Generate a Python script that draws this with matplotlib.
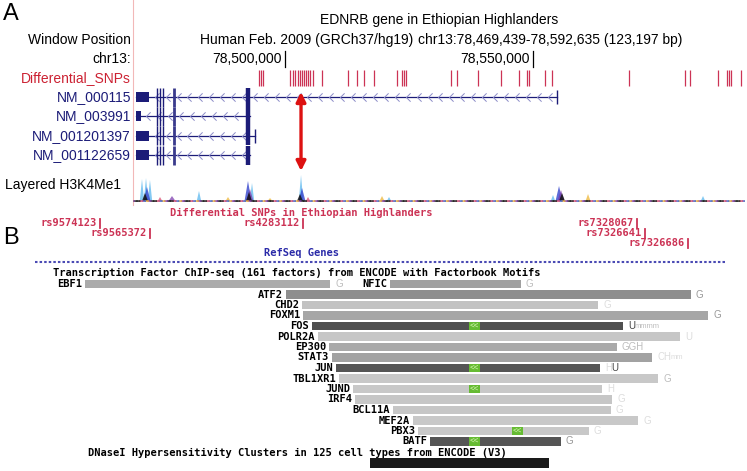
import numpy as np
import matplotlib.pyplot as plt
from matplotlib.path import Path
from matplotlib.patches import Rectangle, Polygon

W, H = 747, 471
SANS = 'Liberation Sans'
MONO = 'DejaVu Sans Mono'

# ---- panel A: chr13 window (hg19) ----
win_start, win_end = 78469439, 78592635
ruler_ticks = [78500000, 78550000]
ruler_labels = ['78,500,000', '78,550,000']

snp_pos = [78494760, 78495160, 78495570, 78501010, 78501610, 78502020, 78502620,
           78503020, 78503430, 78503830, 78504230, 78504640, 78505040, 78505650,
           78507460, 78512700, 78514520, 78515930, 78517940, 78522580, 78523590,
           78523990, 78524390, 78533470, 78534680, 78538910, 78543550, 78547170,
           78548790, 78549190, 78552420, 78553830, 78569350, 78580640, 78581650,
           78587290, 78589110, 78589510, 78589910, 78591930]

tx_names = ['NM_000115', 'NM_003991', 'NM_001201397', 'NM_001122659']
tx_start = [78469900, 78469960, 78469900, 78469900]
tx_end = [78554840, 78492940, 78493950, 78492940]
utr_end = [78472640, 78470970, 78472640, 78472640]
thin_exons = [78474260, 78474740, 78475340]
exon4 = 78477680
exon5 = 78492600
arrow_snp = 78503230

# Layered H3K4Me1 peaks (position, height)
lblue_pos = [78471170, 78471980, 78472780, 78482660, 78493350, 78503230, 78520970, 78554030, 78584270]
lblue_h = [22, 23, 21, 10, 18, 26, 4, 6, 5]
blue_pos = [78472180, 78492540, 78503430, 78555240]
blue_h = [14, 20, 13, 15]
purple_pos = [78477220, 78492940, 78555640]
purple_h = [5, 12, 11]
black_pos = [78471780, 78492740, 78503020, 78555840]
black_h = [8, 9, 7, 8]
orange_pos = [78488510, 78496980, 78519560, 78561090]
orange_h = [4, 3, 5, 7]
pink_pos = [78474800, 78504640]
pink_h = [4, 4]

# ---- panel B: zoomed browser view ----
b_snp_names = ['rs9574123', 'rs9565372', 'rs4283112', 'rs7328067', 'rs7326641', 'rs7326686']
b_snp_x = [100, 150, 303, 637, 645, 688]
b_snp_row = [0, 1, 0, 0, 1, 2]

tf_names = ['EBF1', 'NFIC', 'ATF2', 'CHD2', 'FOXM1', 'FOS', 'POLR2A', 'EP300', 'STAT3',
            'JUN', 'TBL1XR1', 'JUND', 'IRF4', 'BCL11A', 'MEF2A', 'PBX3', 'BATF']
tf_row = [0, 0, 1, 2, 3, 4, 5, 6, 7, 8, 9, 10, 11, 12, 13, 14, 15]
tf_start = [85, 390, 286, 302, 303, 312, 318, 329, 332, 336, 339, 353, 355, 393, 413, 418, 430]
tf_end = [330, 521, 691, 598, 708, 623, 680, 617, 652, 600, 658, 602, 612, 611, 638, 589, 561]
tf_gray = ['#ababab', '#a0a0a0', '#8e8e8e', '#c2c2c2', '#a6a6a6', '#505050', '#c6c6c6',
           '#a9a9a9', '#a2a2a2', '#555555', '#c8c8c8', '#c8c8c8', '#c6c6c6', '#c6c6c6',
           '#c8c8c8', '#c8c8c8', '#555555']
tf_motif = [None, None, None, None, None, 469, None, None, None, 469, None, 469, None,
            None, None, 512, 469]
tf_suffix = ['G', 'G', 'G', 'G', 'G', 'Ummmm', 'U', 'GGH', 'CHmm', 'HU', 'G', 'H', 'G',
             'G', 'G', 'G', 'G']
tf_suffix_shade = ['l', 'l', 'm', 'x', 'm', 'dllll', 'x', 'lll', 'xxxx', 'xd', 'l', 'x', 'x',
                   'x', 'x', 'x', 'm']
dnase_start, dnase_end = 370, 549

shade = {'d': '#444444', 'm': '#999999', 'l': '#bdbdbd', 'x': '#dddddd'}
snp_red = '#cc3355'
navy = '#1c1c78'


def fbox(x0, y0, x1, y1):
    return [x0 / W, 1 - y1 / H, (x1 - x0) / W, (y1 - y0) / H]


fig = plt.figure(figsize=(W / 100, H / 100), dpi=100)
bg = fig.add_axes([0, 0, 1, 1])
bg.set_xlim(0, W)
bg.set_ylim(H, 0)
bg.axis('off')

# left pink border of the browser image
bg.plot([133.4, 133.4], [0, 205], color='#f2b8b8', lw=0.8)

# panel A labels
bg.text(3, 14, 'A', fontsize=17, family=SANS, va='center')
bg.text(439, 20, 'EDNRB gene in Ethiopian Highlanders', fontsize=10, family=SANS, ha='center', va='center')
bg.text(131, 40, 'Window Position', fontsize=10, family=SANS, ha='right', va='center')
bg.text(200, 40, 'Human Feb. 2009 (GRCh37/hg19)', fontsize=10, family=SANS, va='center')
bg.text(418, 40, 'chr13:78,469,439-78,592,635 (123,197 bp)', fontsize=10, family=SANS, va='center')
bg.text(131, 59, 'chr13:', fontsize=10, family=SANS, ha='right', va='center')
bg.text(131, 78, 'Differential_SNPs', fontsize=10, family=SANS, ha='right', va='center', color='#cc2233')
for i, name in enumerate(tx_names):
    bg.text(131, 97 + i * 19.33, name, fontsize=10, family=SANS, ha='right', va='center', color=navy)
bg.text(5, 185, 'Layered H3K4Me1', fontsize=10, family=SANS, va='center')

# panel A tracks
ax = fig.add_axes(fbox(133.4, 0, 744.5, 210))
ax.set_xlim(win_start, win_end)
ax.set_ylim(210, 0)
ax.axis('off')

for pos, lab in zip(ruler_ticks, ruler_labels):
    ax.plot([pos, pos], [51, 67], color='black', lw=0.9)
    ax.annotate(lab, xy=(pos, 59), xytext=(-2, 0), textcoords='offset points',
                ha='right', va='center', fontsize=10, family=SANS)

ax.vlines(snp_pos, 70, 86, color=snp_red, lw=0.9)

row_y = [97, 116.3, 135.7, 155]
chev = Path([(0.5, 1), (-0.5, 0), (0.5, -1)], [Path.MOVETO, Path.LINETO, Path.LINETO])
for i in range(len(tx_names)):
    y = row_y[i]
    ax.plot([tx_start[i], tx_end[i]], [y, y], color=navy, lw=0.9)
    cx = np.arange(utr_end[i] + 1500, tx_end[i] - 800, 2200)
    ax.plot(cx, np.full(len(cx), y), ls='none', marker=chev, ms=6, mfc='none',
            mec='#8c8cc8', mew=0.7)
    ax.add_patch(Rectangle((tx_start[i], y - 5), utr_end[i] - tx_start[i], 10, color=navy, lw=0))
    ax.vlines(thin_exons, y - 9.5, y + 9.5, color=navy, lw=1)
    ax.vlines(exon4, y - 9.5, y + 9.5, color='#3a3a8c', lw=2.0)
    ax.vlines(exon5, y - 9.5, y + 9.5, color=navy, lw=3.2)
    if tx_end[i] > exon5 + 1000:
        ax.vlines(tx_end[i], y - 7, y + 7, color=navy, lw=1)

ax.annotate('', xy=(arrow_snp, 92), xytext=(arrow_snp, 171),
            arrowprops=dict(arrowstyle='<|-|>', color='#dd1111', lw=2.4,
                            mutation_scale=14, shrinkA=0, shrinkB=0))

# Layered H3K4Me1 signal
sig = fig.add_axes(fbox(133.4, 172, 744.5, 202))
sig.set_xlim(win_start, win_end)
sig.set_ylim(0, 30)
sig.axis('off')
base_cols = ['#222222', '#8844aa', '#e8b040', '#4466cc', '#dd5577', '#222222']
for k, c in enumerate(base_cols):
    sig.plot([win_start, win_end], [1.3, 1.3], color=c, lw=2.0, alpha=0.8,
             linestyle=(k, (1.5, 4.5)))


def peaks(pos, h, color, half, alpha):
    for p, v in zip(pos, h):
        sig.add_patch(Polygon([(p - half, 1), (p, v + 1), (p + half, 1)],
                              closed=True, color=color, alpha=alpha, lw=0))


peaks(lblue_pos, lblue_h, '#6ec0f0', 450, 0.85)
peaks(blue_pos, blue_h, '#3344cc', 700, 0.8)
peaks(purple_pos, purple_h, '#7733aa', 700, 0.7)
peaks(orange_pos, orange_h, '#eebb44', 500, 0.8)
peaks(pink_pos, pink_h, '#dd5577', 450, 0.8)
peaks(black_pos, black_h, '#111111', 600, 0.85)

# ---- panel B ----
mono = dict(fontsize=7.5, family=MONO, fontweight='bold', va='center')
bg.text(3, 238, 'B', fontsize=17, family=SANS, va='center')
bg.text(301, 213, 'Differential SNPs in Ethiopian Highlanders', ha='center',
        color=snp_red, **mono)
for name, x, r in zip(b_snp_names, b_snp_x, b_snp_row):
    y = 223 + r * 10
    bg.text(x - 3, y, name, ha='right', color=snp_red, **mono)
    bg.plot([x, x], [y - 4.5, y + 4.5], color=snp_red, lw=1.3)

bg.text(301, 253, 'RefSeq Genes', ha='center', color='#2a2aa8', **mono)
bg.plot([35, 725], [262, 262], color='#4a4ab4', lw=1.5, dashes=(1.2, 1.0))
bg.text(53, 273, 'Transcription Factor ChIP-seq (161 factors) from ENCODE with Factorbook Motifs',
        **mono)

for i in range(len(tf_names)):
    y = 284 + tf_row[i] * 10.5
    bg.add_patch(Rectangle((tf_start[i], y - 4.3), tf_end[i] - tf_start[i], 8.6,
                           color=tf_gray[i], lw=0))
    bg.text(tf_start[i] - 3, y, tf_names[i], ha='right', **mono)
    if tf_motif[i] is not None:
        bg.add_patch(Rectangle((tf_motif[i], y - 4.3), 11, 8.6, color='#66bb33', lw=0))
        bg.text(tf_motif[i] + 5.5, y, '<<', fontsize=5.5, family=MONO, ha='center',
                va='center', color='#ccf0a8')
    # suffix letters: group runs of the same shade and case
    x = tf_end[i] + 5
    run, run_shade = '', None
    for ch, s in list(zip(tf_suffix[i], tf_suffix_shade[i])) + [('', None)]:
        key = (s, ch.islower())
        if run and (ch == '' or key != run_shade):
            low = run_shade[1]
            bg.text(x, y, run, fontsize=5.5 if low else 7, family=SANS, va='center',
                    color=shade[run_shade[0]])
            x += len(run) * (5.8 if low else 6.6)
            run = ''
        if ch:
            run += ch
            run_shade = key

bg.text(88, 453, 'DNaseI Hypersensitivity Clusters in 125 cell types from ENCODE (V3)', **mono)
bg.add_patch(Rectangle((dnase_start, 458), dnase_end - dnase_start, 9.5, color='#1a1a1a', lw=0))

fig.savefig('out.png', dpi=100)
